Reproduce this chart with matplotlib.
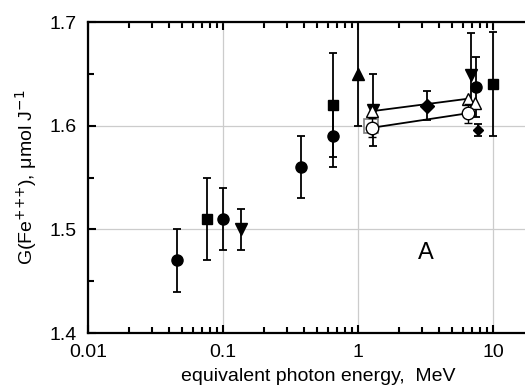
import numpy as np
import matplotlib.pyplot as plt
from matplotlib.ticker import FixedLocator, LogLocator, NullFormatter

plt.rcParams['font.family'] = ['Liberation Sans', 'DejaVu Sans']

# filled circles
circ_x = [0.0456, 0.1, 0.378, 0.653, 7.48]
circ_y = [1.47, 1.51, 1.56, 1.59, 1.637]
circ_e = [0.03, 0.03, 0.03, 0.03, 0.029]

# filled squares
sq_x = [0.076, 0.653, 10.0]
sq_y = [1.51, 1.62, 1.64]
sq_e = [0.04, 0.05, 0.05]

# filled down triangles
dtri_x = [0.136, 1.29, 6.87]
dtri_y = [1.50, 1.615, 1.649]
dtri_e = [0.02, 0.035, 0.04]

# filled up triangle
utri_x = [1.0]
utri_y = [1.65]
utri_e = [0.05]

# filled diamonds
dia_x = [3.24, 7.74]
dia_y = [1.619, 1.596]
dia_e = [0.014, 0.006]

# open triangles, connected
otri_x = [1.27, 6.53, 7.36]
otri_y = [1.614, 1.626, 1.622]

# open circles, connected
ocirc_x = [1.27, 6.53]
ocirc_y = [1.598, 1.612]
ocirc_e = [0.009, 0.009]

# open square
osq_x = [1.25]
osq_y = [1.60]

fig = plt.figure(figsize=(5.25, 3.87), dpi=100)
ax = fig.add_axes([88 / 525, 54 / 387, 460 / 525, 311 / 387])

eb = dict(ls='none', color='black', ecolor='black', elinewidth=1.3,
          capsize=3, capthick=1.3, zorder=3)

ax.plot(otri_x[:2], otri_y[:2], color='black', lw=1.3, zorder=2)
ax.plot(ocirc_x, ocirc_y, color='black', lw=1.3, zorder=2)

ax.errorbar(circ_x, circ_y, yerr=circ_e, marker='o', ms=8, **eb)
ax.errorbar(sq_x, sq_y, yerr=sq_e, marker='s', ms=7.5, **eb)
ax.errorbar(dtri_x, dtri_y, yerr=dtri_e, marker='v', ms=8, **eb)
ax.errorbar(utri_x, utri_y, yerr=utri_e, marker='^', ms=8, **eb)
ax.errorbar(dia_x[:1], dia_y[:1], yerr=dia_e[:1], marker='D', ms=7, **eb)
ax.errorbar(dia_x[1:], dia_y[1:], yerr=dia_e[1:], marker='D', ms=5.5, **eb)
ax.plot(osq_x, osq_y, ls='none', marker='s', ms=10, mfc='white',
        mec='gray', mew=1.2, zorder=4)
ax.plot(otri_x, otri_y, ls='none', marker='^', ms=9, mfc='white',
        mec='black', mew=1.0, zorder=5)
ax.errorbar(ocirc_x, ocirc_y, yerr=ocirc_e, marker='o', ms=9, mfc='white',
            mec='black', mew=1.0, ls='none', ecolor='black', elinewidth=1.0,
            capsize=3, capthick=1.0, zorder=5)

ax.text(3.2, 1.477, 'A', fontsize=17, ha='center', va='center')

ax.set_xscale('log')
ax.set_xlim(0.01, 25.5)
ax.set_ylim(1.4, 1.7)
ax.xaxis.set_major_locator(FixedLocator([0.01, 0.1, 1, 10]))
ax.set_xticklabels(['0.01', '0.1', '1', '10'])
ax.xaxis.set_minor_locator(LogLocator(base=10, subs=np.arange(2, 10)))
ax.xaxis.set_minor_formatter(NullFormatter())
ax.set_yticks([1.4, 1.5, 1.6, 1.7])
ax.set_yticks([1.45, 1.55, 1.65], minor=True)

ax.grid(True, which='major', color='#cccccc', lw=0.9, zorder=0)
ax.set_axisbelow(True)

for s in ax.spines.values():
    s.set_linewidth(1.6)
ax.spines['right'].set_visible(False)

ax.tick_params(which='both', direction='in', top=True, right=False,
               labelsize=14, width=1.5, pad=8)
ax.tick_params(which='major', length=6)
ax.tick_params(which='minor', length=4)

ax.set_xlabel('equivalent photon energy,  MeV', fontsize=14, labelpad=5)
ax.set_ylabel(r'G(Fe$^{{+}{+}{+}}$), $\mathregular{\mu}$mol J$^{-1}$',
              fontsize=14, labelpad=8)

fig.savefig('out.png', dpi=100)
